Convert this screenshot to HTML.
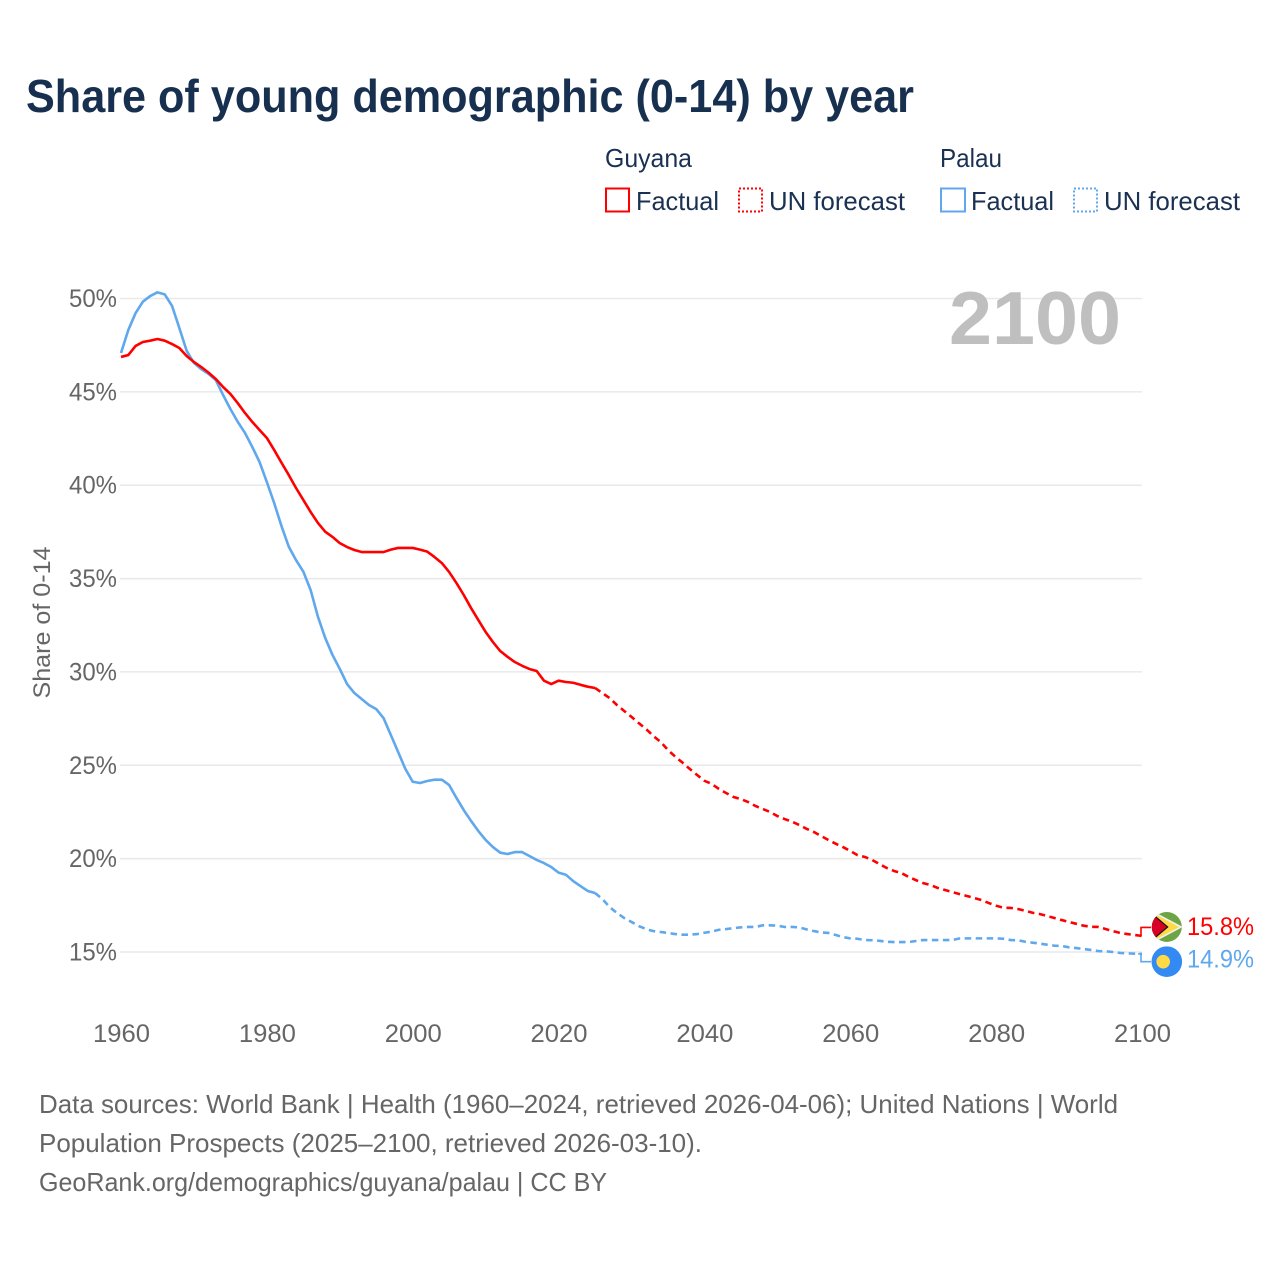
<!DOCTYPE html>
<html lang="en">
<head>
<meta charset="utf-8">
<title>Share of young demographic (0-14) by year</title>
<style>
html,body{margin:0;padding:0;background:#fff;}
svg{display:block;font-family:"Liberation Sans",sans-serif;}
.tick{font-size:25px;fill:#666;}
.legend{font-size:26px;fill:#1a3152;}
.foot{font-size:26px;fill:#666;}
</style>
</head>
<body>
<svg id="chart" xmlns="http://www.w3.org/2000/svg" width="1280" height="1280" viewBox="0 0 1280 1280">
  <defs>
    <clipPath id="guyana-clip"><circle cx="0" cy="0" r="15"/></clipPath>
  </defs>
  <rect x="0" y="0" width="1280" height="1280" fill="#fff"/>
  <text x="26" y="112" font-size="46" font-weight="700" fill="#18304f" textLength="888" lengthAdjust="spacingAndGlyphs">Share of young demographic (0-14) by year</text>

  <g>
    <text class="legend" x="605" y="167" textLength="87" lengthAdjust="spacingAndGlyphs">Guyana</text>
    <rect x="606" y="188.5" width="23" height="23" fill="none" stroke="#ff0000" stroke-width="2"/>
    <text class="legend" x="636" y="210" textLength="83" lengthAdjust="spacingAndGlyphs">Factual</text>
    <rect x="739" y="188.5" width="23" height="23" fill="none" stroke="#ff0000" stroke-width="2" stroke-dasharray="2 2"/>
    <text class="legend" x="769" y="210" textLength="136" lengthAdjust="spacingAndGlyphs">UN forecast</text>
    <text class="legend" x="940" y="167" textLength="62" lengthAdjust="spacingAndGlyphs">Palau</text>
    <rect x="941" y="188.5" width="24" height="23" fill="none" stroke="#5fa8ee" stroke-width="2"/>
    <text class="legend" x="971" y="210" textLength="83" lengthAdjust="spacingAndGlyphs">Factual</text>
    <rect x="1074" y="188.5" width="23" height="23" fill="none" stroke="#5fa8ee" stroke-width="2" stroke-dasharray="2 2"/>
    <text class="legend" x="1104" y="210" textLength="136" lengthAdjust="spacingAndGlyphs">UN forecast</text>
  </g>

  <g id="grid"></g>
  <g id="yticks"></g>
  <g id="xticks"></g>
  <text transform="translate(50,622.5) rotate(-90)" text-anchor="middle" font-size="24" fill="#666" textLength="152" lengthAdjust="spacingAndGlyphs">Share of 0-14</text>
  <text x="949" y="344" font-size="75" font-weight="700" fill="#bfbfbf" textLength="172" lengthAdjust="spacingAndGlyphs">2100</text>

  <g id="series"></g>
  <g id="ends"></g>

  <g>
    <text class="foot" x="39" y="1113" textLength="1079" lengthAdjust="spacingAndGlyphs">Data sources: World Bank | Health (1960–2024, retrieved 2026-04-06); United Nations | World</text>
    <text class="foot" x="39" y="1152" textLength="663" lengthAdjust="spacingAndGlyphs">Population Prospects (2025–2100, retrieved 2026-03-10).</text>
    <text class="foot" x="39" y="1191" textLength="568" lengthAdjust="spacingAndGlyphs">GeoRank.org/demographics/guyana/palau | CC BY</text>
  </g>
</svg>
<script>
const xTickYears = [1960, 1980, 2000, 2020, 2040, 2060, 2080, 2100];
const yTickValues = [50, 45, 40, 35, 30, 25, 20, 15];
const factualStartYear = 1960;
const forecastStartYear = 2025;
const guyanaFactual = [46.87,46.97,47.46,47.67,47.74,47.83,47.74,47.56,47.35,46.92,46.60,46.33,46.03,45.69,45.26,44.89,44.40,43.87,43.39,42.96,42.53,41.89,41.21,40.55,39.85,39.21,38.57,37.98,37.51,37.23,36.90,36.69,36.53,36.42,36.42,36.42,36.42,36.55,36.64,36.64,36.64,36.55,36.44,36.15,35.83,35.35,34.76,34.12,33.42,32.78,32.14,31.60,31.12,30.81,30.53,30.33,30.16,30.05,29.53,29.35,29.53,29.46,29.42,29.31,29.21,29.14];
const guyanaForecast = [29.14,28.87,28.60,28.23,27.91,27.59,27.26,26.94,26.57,26.25,25.82,25.46,25.14,24.80,24.48,24.17,24.00,23.73,23.51,23.30,23.19,23.03,22.82,22.66,22.50,22.28,22.12,21.98,21.80,21.60,21.43,21.21,21.00,20.80,20.62,20.41,20.19,20.09,19.93,19.71,19.50,19.34,19.23,19.02,18.85,18.69,18.59,18.43,18.32,18.21,18.10,18.00,17.89,17.78,17.62,17.48,17.37,17.36,17.30,17.21,17.10,17.03,16.93,16.82,16.71,16.61,16.51,16.41,16.35,16.34,16.23,16.12,16.02,15.96,15.91,15.86];
const palauFactual = [47.08,48.31,49.22,49.83,50.13,50.33,50.22,49.60,48.42,47.20,46.55,46.22,45.96,45.63,44.83,44.08,43.40,42.80,42.05,41.24,40.17,39.05,37.82,36.71,35.99,35.37,34.39,32.96,31.82,30.91,30.16,29.35,28.87,28.55,28.23,28.01,27.53,26.62,25.71,24.80,24.12,24.05,24.16,24.23,24.23,23.94,23.25,22.60,22.02,21.48,21.00,20.62,20.32,20.25,20.35,20.35,20.14,19.93,19.76,19.55,19.25,19.14,18.80,18.53,18.27,18.16];
const palauForecast = [18.16,17.84,17.41,17.09,16.82,16.61,16.39,16.23,16.12,16.07,16.02,15.96,15.93,15.93,15.96,16.03,16.09,16.19,16.23,16.28,16.32,16.34,16.34,16.43,16.43,16.41,16.34,16.34,16.32,16.21,16.12,16.05,16.02,15.91,15.80,15.73,15.71,15.64,15.63,15.60,15.55,15.53,15.53,15.53,15.59,15.64,15.64,15.64,15.64,15.64,15.73,15.73,15.73,15.73,15.73,15.73,15.71,15.64,15.63,15.55,15.50,15.45,15.39,15.34,15.32,15.25,15.21,15.16,15.11,15.05,15.04,15.00,14.95,14.93,14.91,14.90];
const endLabels = ['15.8%', '14.9%'];

const NS = 'http://www.w3.org/2000/svg';
function xScale(year){ return 121 + (year - 1960) * (1021 / 140); }
function yScale(v){ return 298.5 + (50 - v) * (653.5 / 35); }
function make(tag, attrs, parent){
  const el = document.createElementNS(NS, tag);
  for (const k in attrs) el.setAttribute(k, attrs[k]);
  parent.appendChild(el);
  return el;
}
function linePoints(values, startYear){
  return values.map(function(v, i){
    return xScale(startYear + i).toFixed(2) + ',' + yScale(v).toFixed(2);
  }).join(' ');
}

const grid = document.getElementById('grid');
const yticks = document.getElementById('yticks');
yTickValues.forEach(function(v){
  const line = make('line', {x1: 120, x2: 1142, y1: yScale(v), y2: yScale(v), stroke: '#e9e9e9', 'stroke-width': 1.5}, grid);
  
  
  const t = make('text', {x: 117, y: yScale(v) + 8.5, 'text-anchor': 'end', 'class': 'tick', textLength: 48, lengthAdjust: 'spacingAndGlyphs'}, yticks);
  t.textContent = v + '%';
  
  
});

const xticks = document.getElementById('xticks');
xTickYears.forEach(function(yr){
  const t = make('text', {x: xScale(yr) + 0.5, y: 1042, 'text-anchor': 'middle', 'class': 'tick', textLength: 57, lengthAdjust: 'spacingAndGlyphs'}, xticks);
  t.textContent = String(yr);
  
  
});

const series = document.getElementById('series');
const RED = '#ff0000';
const BLUE = '#5fa8ee';

const palauFactualLine = make('polyline', {points: linePoints(palauFactual, factualStartYear), fill: 'none', stroke: BLUE, 'stroke-width': 2.6, 'stroke-linejoin': 'round'}, series);



const palauForecastLine = make('polyline', {points: linePoints(palauForecast, forecastStartYear), fill: 'none', stroke: BLUE, 'stroke-width': 2.6, 'stroke-dasharray': '6.5 4.5'}, series);



const guyanaFactualLine = make('polyline', {points: linePoints(guyanaFactual, factualStartYear), fill: 'none', stroke: RED, 'stroke-width': 2.6, 'stroke-linejoin': 'round'}, series);



const guyanaForecastLine = make('polyline', {points: linePoints(guyanaForecast, forecastStartYear), fill: 'none', stroke: RED, 'stroke-width': 2.6, 'stroke-dasharray': '6.5 4.5'}, series);



const ends = document.getElementById('ends');
const endX = xScale(2100);
const guyanaEndY = yScale(guyanaForecast[guyanaForecast.length - 1]);
const palauEndY = yScale(palauForecast[palauForecast.length - 1]);
const guyanaFlagY = guyanaEndY - 9;
const palauFlagY = palauEndY + 7.8;

const guyanaConnector = make('polyline', {points: (endX - 1) + ',' + guyanaEndY + ' ' + (endX - 1) + ',' + (guyanaFlagY + 0.5) + ' ' + (endX + 9) + ',' + (guyanaFlagY + 0.5), fill: 'none', stroke: RED, 'stroke-width': 1.6}, ends);



const palauConnector = make('polyline', {points: (endX - 4) + ',' + palauEndY + ' ' + (endX - 1) + ',' + palauEndY + ' ' + (endX - 1) + ',' + palauFlagY + ' ' + (endX + 9) + ',' + palauFlagY, fill: 'none', stroke: BLUE, 'stroke-width': 1.6}, ends);



/* Guyana flag */
const gFlag = make('g', {transform: 'translate(1166.8,' + guyanaFlagY + ')', 'clip-path': 'url(#guyana-clip)'}, ends);


make('rect', {x: -16, y: -16, width: 32, height: 32, fill: '#6da544'}, gFlag);
make('path', {d: 'M-16,-17 L16,0 L-16,17 Z', fill: '#f0f0f0'}, gFlag);
make('path', {d: 'M-16,-15 L12.5,0 L-16,15 Z', fill: '#ffda44'}, gFlag);
make('path', {d: 'M-16,-15 L1.8,0 L-16,15 Z', fill: '#111'}, gFlag);
make('path', {d: 'M-16,-13.5 L0,0 L-16,13.5 Z', fill: '#d80027'}, gFlag);

/* Palau flag */
const pFlag = make('g', {transform: 'translate(1166.8,' + palauFlagY + ')'}, ends);


make('circle', {cx: 0, cy: 0, r: 15.3, fill: '#338af3'}, pFlag);
make('circle', {cx: -3.6, cy: 0, r: 6.8, fill: '#ffda44'}, pFlag);

const guyanaEndLabel = make('text', {x: 1187, y: guyanaFlagY + 8, 'font-size': 25, fill: RED, textLength: 67, lengthAdjust: 'spacingAndGlyphs'}, ends);
guyanaEndLabel.textContent = endLabels[0];



const palauEndLabel = make('text', {x: 1187, y: palauFlagY + 6, 'font-size': 25, fill: BLUE, textLength: 67, lengthAdjust: 'spacingAndGlyphs'}, ends);
palauEndLabel.textContent = endLabels[1];


</script>
</body>
</html>
